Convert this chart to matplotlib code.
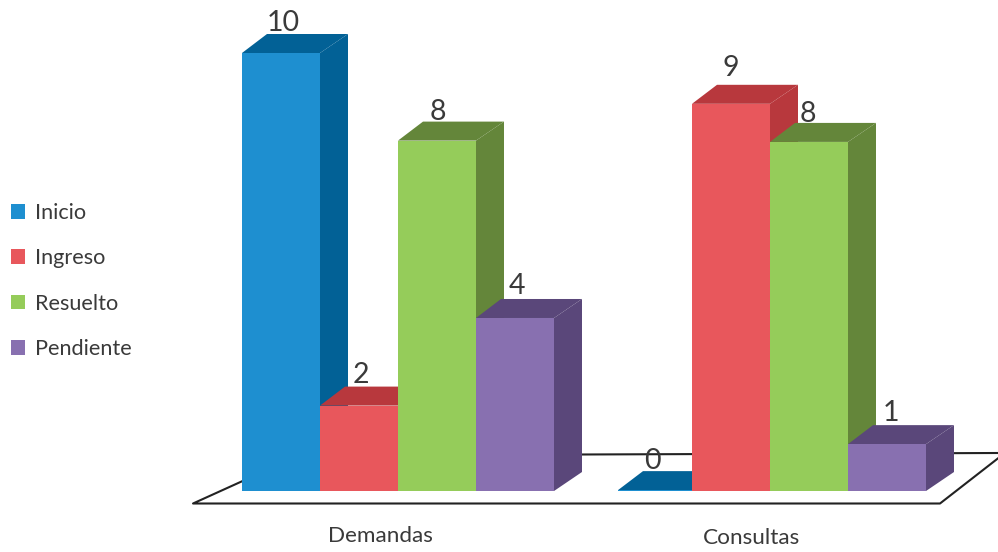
import matplotlib
matplotlib.use("Agg")
from matplotlib import pyplot as plt
from matplotlib.patches import Patch

plt.rcParams['font.family'] = ['Lato', 'DejaVu Sans']

categorias = ["Demandas", "Consultas"]
series = ["Inicio", "Ingreso", "Resuelto", "Pendiente"]
# labelled values
demandas = [10, 2, 8, 4]
consultas = [0, 9, 8, 1]
# heights as drawn in the picture (the drawing is not exact to its labels)
alturas_demandas = [10, 1.95, 8, 3.95]
alturas_consultas = [0.02, 8.84, 7.97, 1.07]

colores = ["#1E8FD0", "#E8575C", "#95CC5A", "#8870B0"]
oscuros = ["#026196", "#B8383D", "#64863A", "#5A477A"]

W, H = 998, 552
y0 = 491       # pixel row of value 0
ppu = 43.8     # pixels per value unit
dy = 19 / ppu  # depth of the boxes
dx_izq, dx_der = 25, 28
ancho = 78
left_dem = [242, 320, 398, 476]
left_con = [618, 692, 770, 848]
ancho_con = [74, 78, 78, 78]
# label nudges in pixels
nudge_dem = [(1, 2), (1, 1), (0, 3), (1, 0)]
nudge_con = [(-6, 3), (-1, -4), (-2, 4), (3, 1)]


def yv(py):  # pixel row -> value
    return (y0 - py) / ppu


fig = plt.figure(figsize=(W / 100, H / 100), dpi=100)
ax = fig.add_axes([0, 0, 1, 1])
ax.set_xlim(0, W)
ax.set_ylim(yv(H), yv(0))
ax.axis("off")

# floor
ax.plot([300, 193, 940, 1010], [yv(455), yv(503.5), yv(503.5), yv(449)], color="#222222", lw=1.5, zorder=1)
ax.plot([300, 998], [yv(455.5), yv(453)], color="#222222", lw=1.5, zorder=1)


def caja(x, w, h, valor, i, nudge, z):
    ax.bar(x, h, width=w, bottom=0, align="edge", color=colores[i], linewidth=0, zorder=z + 0.2)
    r = x + w
    ax.fill([x, r, r + dx_der, x + dx_izq], [h, h, h + dy, h + dy], color=oscuros[i], lw=0, zorder=z + 0.1)
    if h > 0.1:
        ax.fill([r, r + dx_der, r + dx_der, r], [h, h + dy, dy, 0], color=oscuros[i], lw=0, zorder=z)
    ax.annotate(str(valor), (x + 40, h), xytext=(nudge[0] * 0.72, (32 - nudge[1]) * 0.72),
                textcoords="offset points", ha="center", va="center",
                fontsize=20.5, color="#3a3a3a", zorder=20)


for i in range(4):
    caja(left_dem[i], ancho, alturas_demandas[i], demandas[i], i, nudge_dem[i], 2 + i)
for i in range(4):
    caja(left_con[i], ancho_con[i], alturas_consultas[i], consultas[i], i, nudge_con[i], 7 + i)

ax.text(380, yv(536), categorias[0], ha="center", va="center", fontsize=16.2, color="#3a3a3a")
ax.text(752, yv(538), categorias[1], ha="center", va="center", fontsize=16.2, color="#3a3a3a")

handles = [Patch(facecolor=c, edgecolor="none", label=s) for c, s in zip(colores, series)]
leg = ax.legend(handles=handles, loc="center left", bbox_to_anchor=(0.011, 0.491), frameon=False,
                fontsize=15.6, handlelength=0.65, handleheight=0.65, handletextpad=0.45,
                labelspacing=1.17, labelcolor="#3a3a3a", borderpad=0, borderaxespad=0)

plt.savefig("out.png", dpi=100)
